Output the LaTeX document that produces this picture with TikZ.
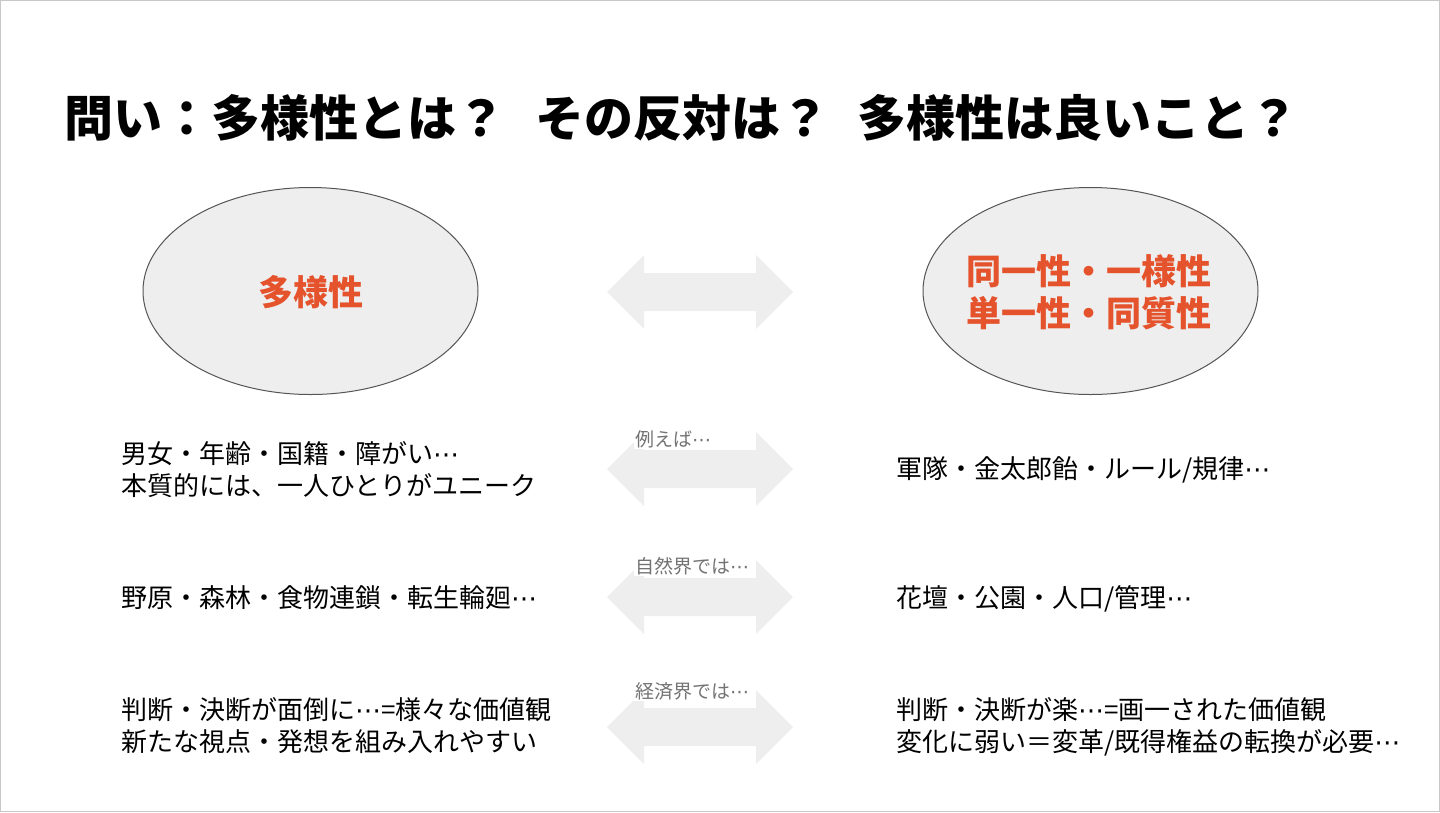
\documentclass[tikz,border=0pt]{standalone}
\usepackage{fontspec}
\newfontfamily\jp{Noto Sans CJK JP}
\newfontfamily\symfont{DejaVu Sans}
\newcommand\tdots{{\symfont ⋯}}
\definecolor{accent}{RGB}{229,83,45}
\definecolor{shapefill}{RGB}{238,238,238}
\definecolor{shapeline}{RGB}{85,85,85}
\definecolor{labelgray}{RGB}{115,115,115}
\definecolor{framegray}{RGB}{200,200,200}
\usetikzlibrary{shapes.geometric}
\tikzset{
  titletext/.style={inner sep=0pt, anchor=base west, font=\jp\bfseries\fontsize{49}{58}\selectfont},
  oval/.style={ellipse, draw=shapeline, line width=1pt, fill=shapefill, minimum width=335pt, minimum height=207pt, inner sep=0pt},
  ovaltext/.style={inner sep=0pt, anchor=base, text=accent, font=\jp\bfseries\fontsize{35}{42}\selectfont},
  body/.style={inner sep=0pt, anchor=base west, font=\jp\fontsize{26}{32}\selectfont},
  smalllabel/.style={inner sep=1pt, anchor=base west, fill=white, text=labelgray, font=\jp\fontsize{19}{22}\selectfont},
  dblarrow/.pic={\fill[shapefill] (-93,0) -- (-56,-37) -- (-56,-19) -- (56,-19) -- (56,-37) -- (93,0) -- (56,37) -- (56,19) -- (-56,19) -- (-56,37) -- cycle;}
}
\begin{document}
\begin{tikzpicture}[x=1pt,y=-1pt]
\useasboundingbox (0,0) rectangle (1440,812);
\draw[framegray, line width=1pt] (0.5,0.5) rectangle (1439.5,811.5);

\node[titletext] (title) at (64,136) {問い：多様性とは？\hspace*{30pt}その反対は？\hspace*{28pt}多様性は良いこと？};

\node[oval] (left) at (310.5,291) {};
\node[oval] (right) at (1090.5,291) {};
\node[ovaltext] (ltext) at (310.5,305) {多様性};
\node[ovaltext] (rtext1) at (1089,284) {同一性・一様性};
\node[ovaltext] (rtext2) at (1089,326) {単一性・同質性};

\pic at (700,292) {dblarrow};
\pic at (700,469) {dblarrow};
\pic at (700,597) {dblarrow};
\pic at (700,727) {dblarrow};

\node[smalllabel] (lab1) at (634,446) {例えば\tdots};
\node[smalllabel] (lab2) at (634,573) {自然界では\tdots};
\node[smalllabel] (lab3) at (634,698) {経済界では\tdots};

\node[body] (l1a) at (121,463) {男女・年齢・国籍・障がい\tdots};
\node[body] (l1b) at (121,495) {本質的には、一人ひとりがユニーク};
\node[body] (l2) at (121,607) {野原・森林・食物連鎖・転生輪廻\tdots};
\node[body] (l3a) at (121,719) {判断・決断が面倒に\tdots=様々な価値観};
\node[body] (l3b) at (121,751) {新たな視点・発想を組み入れやすい};

\node[body] (r1) at (896,478) {軍隊・金太郎飴・ルール/規律\tdots};
\node[body] (r2) at (896,607) {花壇・公園・人口/管理\tdots};
\node[body] (r3a) at (896,719) {判断・決断が楽\tdots=画一された価値観};
\node[body] (r3b) at (896,751) {変化に弱い＝変革/既得権益の転換が必要\tdots};
\end{tikzpicture}
\end{document}
